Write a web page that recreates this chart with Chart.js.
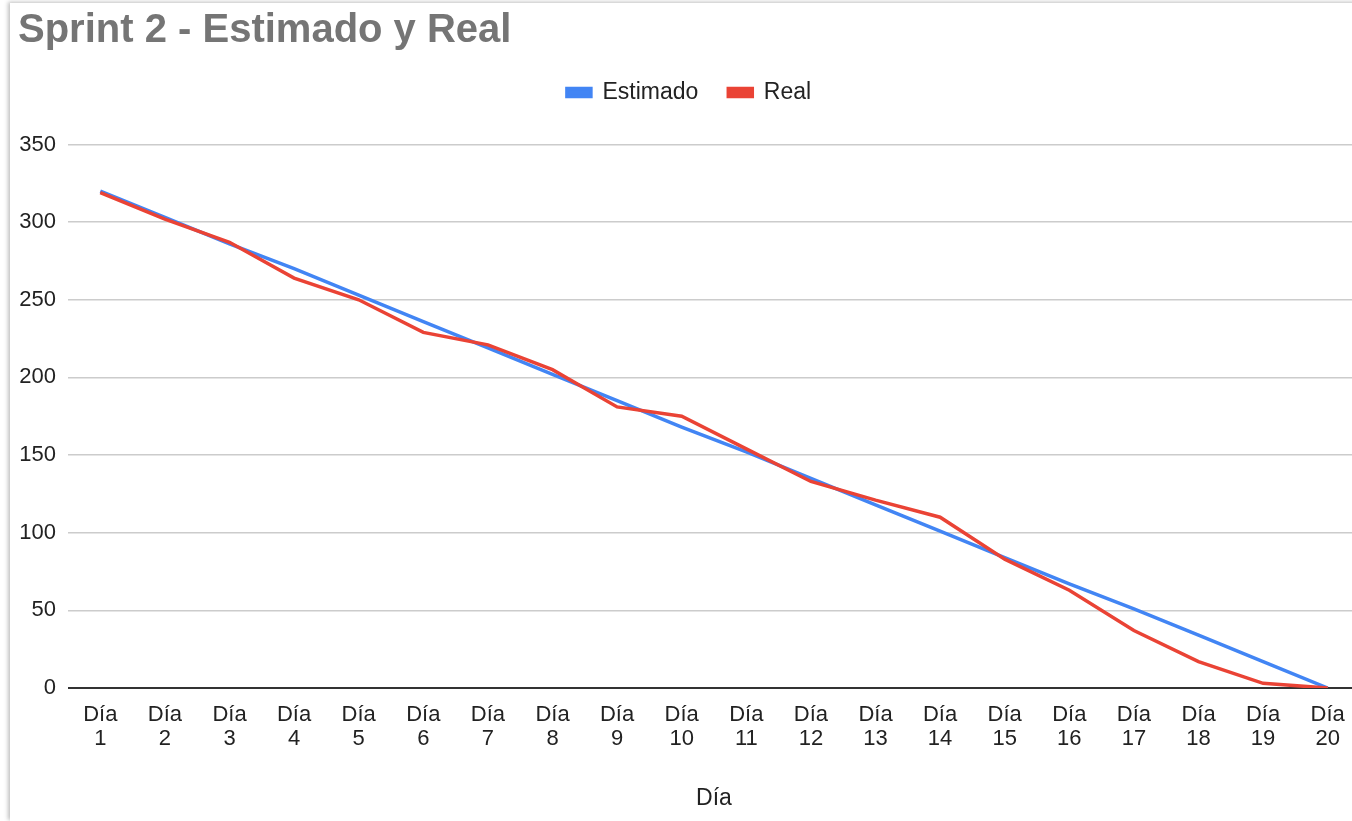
<!DOCTYPE html>
<html>
<head>
<meta charset="utf-8">
<title>Sprint 2 - Estimado y Real</title>
<script src="https://cdn.jsdelivr.net/npm/chart.js@4.4.0/dist/chart.umd.min.js"></script>
<style>
  html, body { margin: 0; padding: 0; background: #fff; overflow: hidden; }
  #wrap {
    position: absolute; left: 10px; top: 3px; width: 1350px; height: 818px;
    background: #fff; box-shadow: -2px -1px 4px rgba(0, 0, 0, 0.25);
  }
</style>
</head>
<body>
<div id="wrap"><canvas id="sprint-chart"></canvas></div>
<script>
// days of the sprint
const days = ["1", "2", "3", "4", "5", "6", "7", "8", "9", "10",
  "11", "12", "13", "14", "15", "16", "17", "18", "19", "20"];

// estimated remaining work per day
const estimado = [320, 303, 286, 270, 253, 236, 219, 202, 185, 168,
  152, 135, 118, 101, 84, 67, 51, 34, 17, 0];

// real remaining work per day
const real = [319, 302, 287, 264, 250, 229, 221, 205, 181, 175,
  154, 133, 121, 110, 83, 63, 37, 17, 3, 0];

// y axis ticks
const yMin = 0;
const yMax = 350;
const yStep = 50;

const fontFamily = "'Liberation Sans', Arial, sans-serif";

// push the plot area down below the legend
const legendSpacer = {
  id: "legendSpacer",
  beforeInit(chart) {
    const fit = chart.legend.fit;
    chart.legend.fit = function () {
      fit.bind(chart.legend)();
      this.height += 30.5;
    };
  },
};

const ctx = document.getElementById("sprint-chart").getContext("2d");
ctx.canvas.width = 1350;
ctx.canvas.height = 818;

window.myChart = new Chart(ctx, {
  type: "line",
  data: {
    labels: days.map((d) => ["Día", d]),
    datasets: [
      {
        label: "Estimado",
        data: estimado,
        borderColor: "#4285F4",
        backgroundColor: "#4285F4",
        borderWidth: 3.5,
        pointRadius: 0,
        tension: 0,
        order: 2,
      },
      {
        label: "Real",
        data: real,
        borderColor: "#EA4335",
        backgroundColor: "#EA4335",
        borderWidth: 3.5,
        pointRadius: 0,
        tension: 0,
        order: 1,
      },
    ],
  },
  options: {
    responsive: false,
    animation: false,
    layout: { padding: { left: 8, right: 0, top: 0, bottom: 0 } },
    plugins: {
      title: {
        display: true,
        text: "Sprint 2 - Estimado y Real",
        align: "start",
        color: "#757575",
        font: { family: fontFamily, size: 40, weight: "bold", lineHeight: 1 },
        padding: { top: 8, bottom: 0 },
      },
      legend: {
        display: true,
        position: "top",
        labels: {
          color: "#222",
          font: { family: fontFamily, size: 23 },
          boxWidth: 24,
          boxHeight: 8,
          padding: 30,
          sort: (a, b) => a.datasetIndex - b.datasetIndex,
        },
      },
      tooltip: { enabled: false },
    },
    scales: {
      x: {
        offset: true,
        grid: { display: false, drawTicks: false },
        border: { display: false },
        ticks: {
          color: "#222",
          font: { family: fontFamily, size: 22, lineHeight: 1.1 },
          padding: 15,
          maxRotation: 0,
          autoSkip: false,
        },
        title: {
          display: true,
          text: "Día",
          color: "#222",
          font: { family: fontFamily, size: 23 },
          padding: { top: 18, bottom: 9 },
        },
      },
      y: {
        min: yMin,
        max: yMax,
        ticks: {
          stepSize: yStep,
          color: "#222",
          font: { family: fontFamily, size: 22 },
          padding: 12,
        },
        grid: {
          drawTicks: false,
          color: (c) => (c.tick && c.tick.value === 0 ? "#333" : "#cccccc"),
          lineWidth: (c) => (c.tick && c.tick.value === 0 ? 2 : 1.5),
        },
        border: { display: false },
        afterFit(scale) {
          scale.width = 50;
        },
      },
    },
  },
  plugins: [legendSpacer],
});
</script>
</body>
</html>
